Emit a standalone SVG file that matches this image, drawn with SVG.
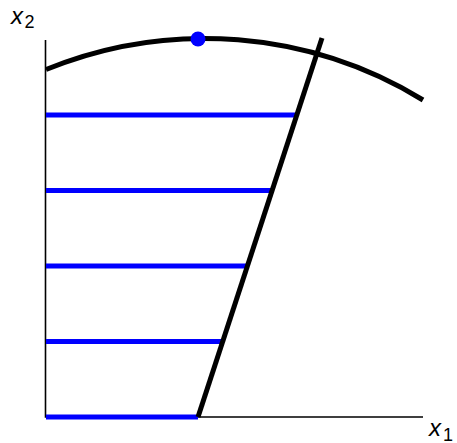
<svg xmlns="http://www.w3.org/2000/svg" width="457" height="443" viewBox="0 0 457 443">
<style>
.axis{stroke:#000;stroke-width:1.6;fill:none}
.thick{stroke:#000;stroke-width:5;fill:none}
.blue{stroke:#0000ff;stroke-width:5;fill:none}
.lbl{font-family:"Liberation Sans",Arial,sans-serif;font-style:italic;font-size:24px;fill:#000}
.sub{font-family:"Liberation Sans",Arial,sans-serif;font-size:18px;fill:#000}
</style>
<rect width="457" height="443" fill="#fff"/>
<g id="axes">
<path class="axis" d="M45.5,40 V417 H423"/>
</g>
<g id="curve">
<path class="thick" d="M46,69.5 A419.5,419.5 0 0 1 423,100"/>
</g>
<g id="connectors">
<path class="blue" d="M46,115 H297"/>
<path class="blue" d="M46,190.5 H272"/>
<path class="blue" d="M46,266 H247.4"/>
<path class="blue" d="M46,341.5 H222.5"/>
<path class="blue" d="M46,417 H198"/>
</g>
<g id="constraint">
<path class="thick" d="M198,417 L322,38"/>
</g>
<g id="optimum">
<circle cx="198" cy="39" r="7.5" fill="#0000ff"/>
</g>
<g id="label-x2">
<text class="lbl" x="11" y="23.5">x</text><text class="sub" x="24.5" y="28">2</text>
</g>
<g id="label-x1">
<text class="lbl" x="429" y="436">x</text><text class="sub" x="443" y="441">1</text>
</g>
</svg>
